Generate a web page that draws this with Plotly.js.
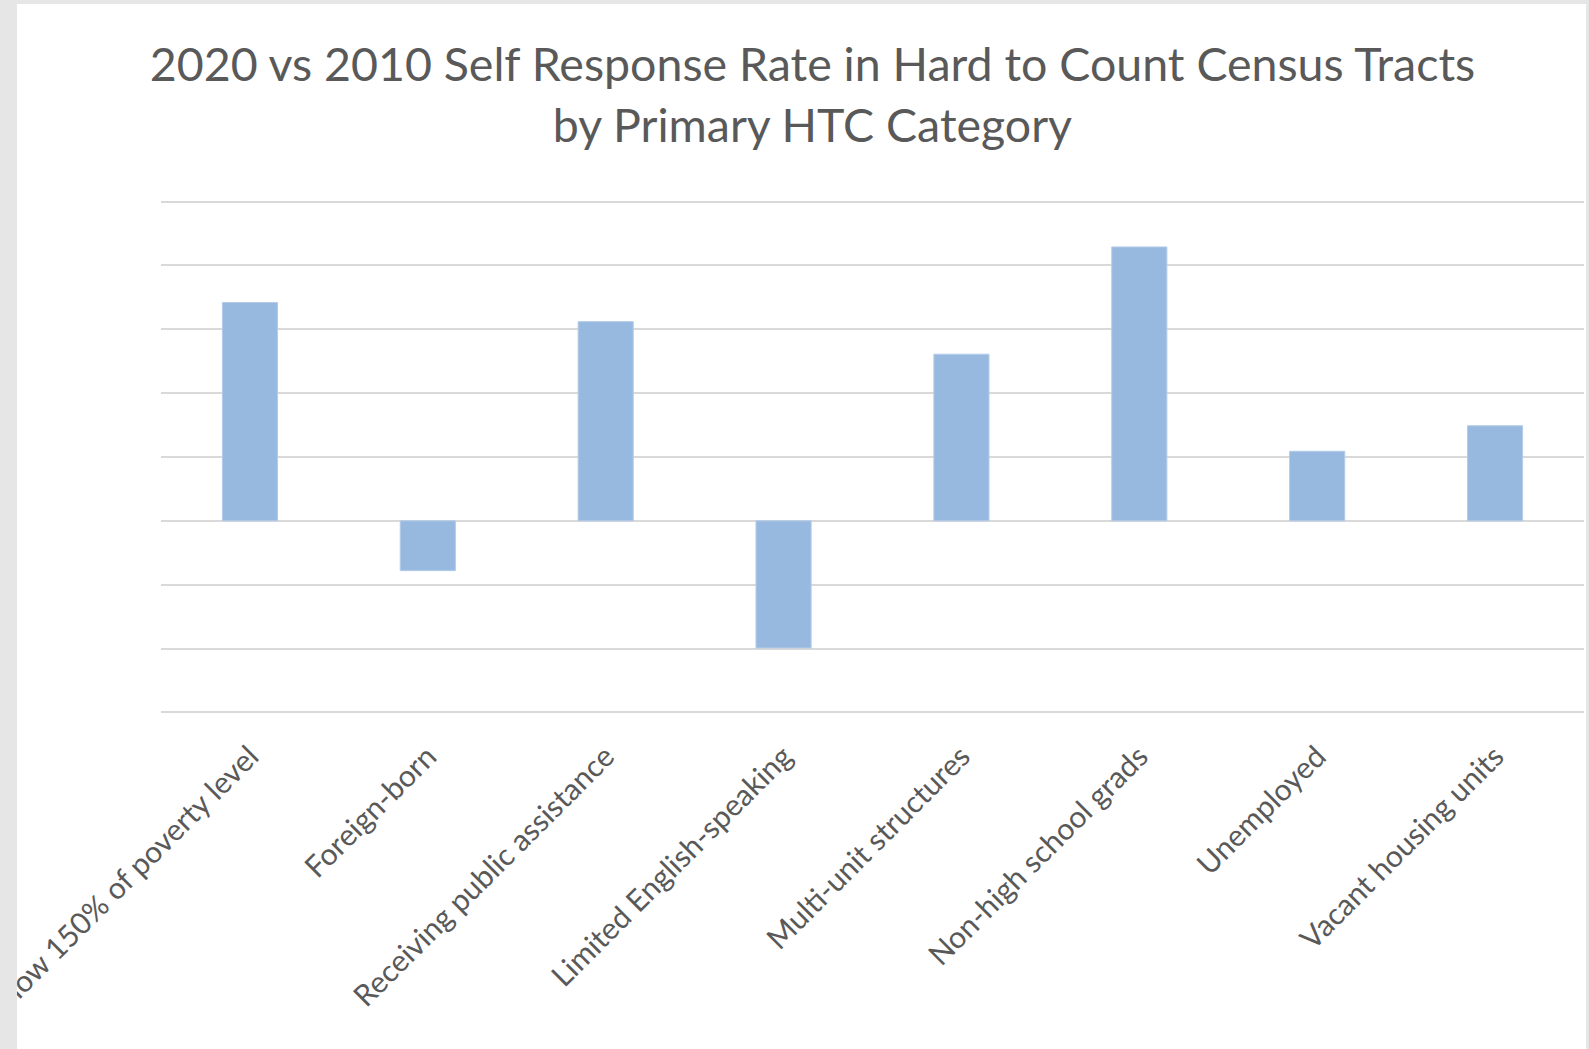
<!DOCTYPE html>
<html>
<head>
<meta charset="utf-8">
<script src="https://cdn.plot.ly/plotly-3.0.1.min.js"></script>
<style>
  html, body { margin: 0; padding: 0; background: #e6e6e6; width: 1589px; height: 1049px; overflow: hidden; }
  #chart { position: absolute; left: 17px; top: 4px; width: 1569px; height: 1045px; background: #ffffff; }
</style>
</head>
<body>
<div id="chart"></div>
<script>
const categories = [
  "Below 150% of poverty level",
  "Foreign-born",
  "Receiving public assistance",
  "Limited English-speaking",
  "Multi-unit structures",
  "Non-high school grads",
  "Unemployed",
  "Vacant housing units"
];
const changeValues = [3.42, -0.78, 3.12, -1.99, 2.61, 4.29, 1.09, 1.49];
const titleText = "2020 vs 2010 Self Response Rate in Hard to Count Census Tracts<br>by Primary HTC Category";

const trace = {
  type: "bar",
  x: categories,
  y: changeValues,
  marker: { color: "#97b9df", line: { color: "#b4cce9", width: 1 } },
  hoverinfo: "x+y"
};

const layout = {
  width: 1569,
  height: 1045,
  paper_bgcolor: "#ffffff",
  plot_bgcolor: "#ffffff",
  margin: { l: 144, r: 2, t: 196, b: 335 },
  bargap: 0.69,
  showlegend: false,
  font: { family: "Lato, 'Open Sans', sans-serif", color: "#595959" },
  title: {
    text: titleText,
    font: { family: "Lato, sans-serif", size: 46.5, color: "#595959" },
    x: 0.507, xanchor: "center", xref: "container",
    y: 0.926, yanchor: "top", yref: "container"
  },
  xaxis: {
    type: "category",
    tickangle: -45,
    tickfont: { size: 30, color: "#595959", family: "Lato, sans-serif" },
    showgrid: false,
    showline: false,
    ticks: "",
    ticklabelstandoff: 18,
    automargin: false
  },
  yaxis: {
    range: [-3.025, 5.025],
    dtick: 1,
    tick0: 0,
    showticklabels: false,
    showgrid: true,
    gridcolor: "#d9d9d9",
    gridwidth: 2,
    zeroline: true,
    zerolinecolor: "#d9d9d9",
    zerolinewidth: 2,
    showline: false,
    ticks: "",
    fixedrange: true
  }
};

Plotly.newPlot("chart", [trace], layout, { displayModeBar: false, staticPlot: true });
</script>
</body>
</html>
